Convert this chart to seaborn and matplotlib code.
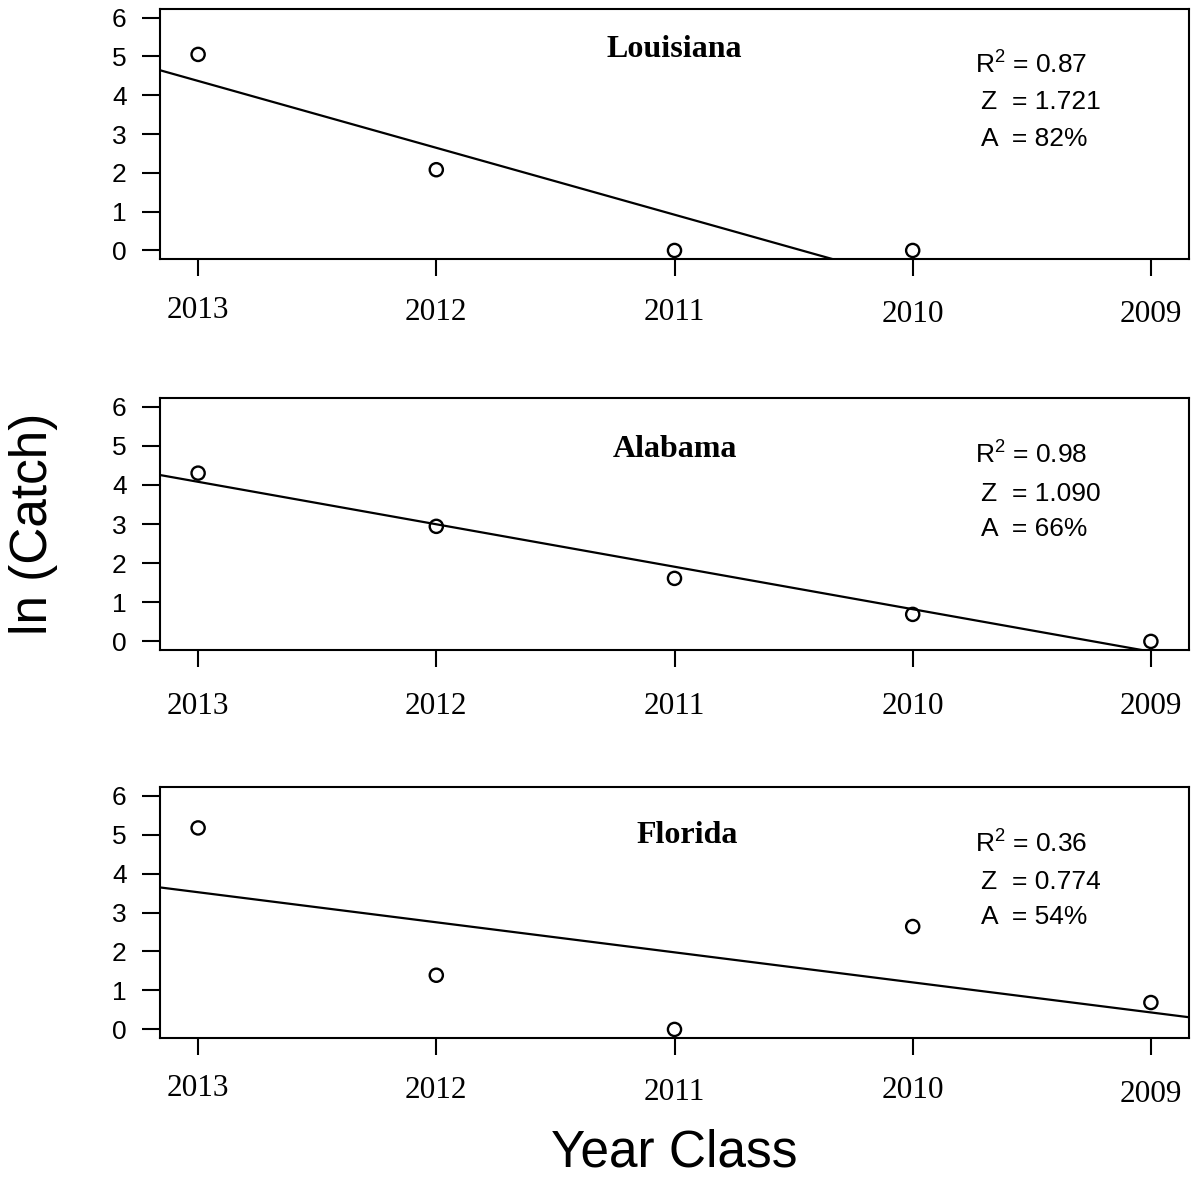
import numpy as np
import pandas as pd
import matplotlib
matplotlib.use("Agg")
import matplotlib.pyplot as plt
import seaborn as sns
from matplotlib.transforms import blended_transform_factory, ScaledTranslation

# ---- data: ln(catch) by year class ----
year_class = ["2013", "2012", "2011", "2010", "2009"]
louisiana = [5.05, 2.08, 0.00, 0.00, np.nan]
alabama = [4.30, 2.94, 1.61, 0.69, 0.00]
florida = [5.17, 1.39, 0.00, 2.64, 0.69]
states = ["Louisiana", "Alabama", "Florida"]
r_squared = ["0.87", "0.98", "0.36"]
z_values = ["1.721", "1.090", "0.774"]
a_values = ["82%", "66%", "54%"]

series = [louisiana, alabama, florida]
position = np.arange(1, len(year_class) + 1)

sns.set_style("ticks")
plt.rcParams["font.family"] = ["Liberation Sans", "DejaVu Sans"]
plt.rcParams["mathtext.fontset"] = "custom"
plt.rcParams["mathtext.rm"] = "Liberation Sans"
plt.rcParams["mathtext.it"] = "Liberation Sans:italic"
plt.rcParams["mathtext.bf"] = "Liberation Sans:bold"
for key in ["text.color", "axes.labelcolor", "xtick.color", "ytick.color",
            "axes.edgecolor"]:
    plt.rcParams[key] = "black"

W, H = 1191, 1178
fig = plt.figure(figsize=(W / 100, H / 100), dpi=100)

# panel boxes in pixels: (top, bottom)
boxes = [(9, 259), (398, 650), (787, 1038)]
left_px, right_px = 160, 1189

# per-panel text placement (axes fraction) and year-label drops (pixels)
title_xy = [(0.5, 0.808), (0.5, 0.766), (0.512, 0.777)]
stat_y = [(0.740, 0.600, 0.452), (0.738, 0.591, 0.452), (0.737, 0.594, 0.454)]
label_drop = [[52, 53, 53, 56, 56], [57, 57, 57, 57, 57], [51, 53, 54, 53, 56]]

for i, (state, vals) in enumerate(zip(states, series)):
    top, bottom = boxes[i]
    ax = fig.add_axes([left_px / W, 1 - bottom / H,
                       (right_px - left_px) / W, (bottom - top) / H])
    ax.set_xlim(0.84, 5.16)
    ax.set_ylim(-0.22, 6.22)

    df = pd.DataFrame({"pos": position, "ln_catch": vals}).dropna()
    sns.regplot(data=df, x="pos", y="ln_catch", ax=ax, ci=None, truncate=False,
                marker="o", color="black",
                scatter_kws=dict(s=90, facecolors="none", edgecolors="black",
                                 linewidths=1.7, alpha=1),
                line_kws=dict(color="black", lw=1.6))
    ax.set_xlim(0.84, 5.16)
    ax.set_ylim(-0.22, 6.22)
    ax.set_xlabel("")
    ax.set_ylabel("")

    for sp in ax.spines.values():
        sp.set_visible(True)
        sp.set_linewidth(1.5)
        sp.set_color("black")

    ax.set_yticks(range(0, 7))
    ax.set_yticklabels([str(v) for v in range(0, 7)], fontsize=19,
                       color="black")
    ax.tick_params(axis="y", length=13, width=1.5, pad=11,
                   colors="black", direction="out")
    ax.set_xticks(position)
    ax.set_xticklabels([])
    ax.tick_params(axis="x", length=12.5, width=1.5, direction="out",
                   colors="black")

    # year-class labels in serif, each set at its own drop below the box
    base = blended_transform_factory(ax.transData, ax.transAxes)
    for p, lab, drop in zip(position, year_class, label_drop[i]):
        tr = base + ScaledTranslation(0, -drop / 100, fig.dpi_scale_trans)
        ax.text(p, 0, lab, transform=tr, ha="center", va="center",
                fontsize=22.5, family="Liberation Serif", color="black")

    tx, ty = title_xy[i]
    ax.text(tx, ty, state, transform=ax.transAxes, ha="center", va="baseline",
            fontsize=23, fontweight="bold", family="Liberation Serif",
            color="black")

    y1, y2, y3 = stat_y[i]
    ax.text(0.792, y1, r"R$^2$ = " + r_squared[i], transform=ax.transAxes,
            ha="left", va="baseline", fontsize=19, color="black")
    ax.text(0.798, y2, "Z  = " + z_values[i], transform=ax.transAxes,
            ha="left", va="baseline", fontsize=19, color="black")
    ax.text(0.798, y3, "A  = " + a_values[i], transform=ax.transAxes,
            ha="left", va="baseline", fontsize=19, color="black")

fig.text(34 / W, 1 - 524 / H, "ln (Catch)", rotation=90, ha="center",
         va="center", fontsize=37, color="black")
fig.text(674 / W, 1 - 1153 / H, "Year Class", ha="center", va="center",
         fontsize=37, color="black")

fig.savefig("out.png", dpi=100, facecolor="white")
